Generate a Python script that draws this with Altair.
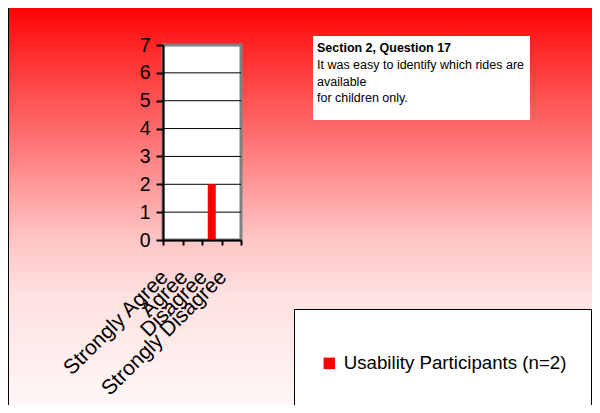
import altair as alt
import pandas as pd

# ---- data ----
categories = ["Strongly Agree", "Agree", "Disagree", "Strongly Disagree"]
counts = [0, 0, 2, 0]
series_name = "Usability Participants (n=2)"
y_ticks = [0, 1, 2, 3, 4, 5, 6, 7]
grid_values = [1, 2, 3, 4, 5, 6]
note_title = "Section 2, Question 17"
note_lines = ["It was easy to identify which rides are", "available", "for children only."]

FONT = "Liberation Sans, Arial, sans-serif"
W, H = 78, 195

bars_df = pd.DataFrame({"category": categories, "count": counts, "series": [series_name] * len(categories)})
grid_df = pd.DataFrame({"count": grid_values})
one = pd.DataFrame({"a": [0]})

y_scale = alt.Scale(domain=[0, 7], nice=False)
y_axis = alt.Axis(
    values=y_ticks, title=None, grid=False, zindex=1,
    labelFont=FONT, labelFontSize=19.5, labelColor="black", labelPadding=6,
    tickSize=7, tickColor="black", tickWidth=2,
    domainColor="black", domainWidth=2,
)

gradient = alt.LinearGradient(
    gradient="linear",
    stops=[
        alt.GradientStop(color="#ff0000", offset=0),
        alt.GradientStop(color="#ff2020", offset=0.08),
        alt.GradientStop(color="#ff6a6a", offset=0.30),
        alt.GradientStop(color="#ffc4c4", offset=0.57),
        alt.GradientStop(color="#ffe2e2", offset=0.72),
        alt.GradientStop(color="#fff8f8", offset=1),
    ],
    x1=0, x2=0, y1=0, y2=1,
)

background = alt.Chart(one).mark_rect(fill=gradient, stroke="black", strokeWidth=1).encode(
    x=alt.value(-154.5), x2=alt.value(445), y=alt.value(-38.5), y2=alt.value(368)
)

plot_bg = alt.Chart(one).mark_rect(fill="white", stroke="#808080", strokeWidth=3).encode(
    x=alt.value(0), x2=alt.value(W), y=alt.value(0), y2=alt.value(H)
)

grid = alt.Chart(grid_df).mark_rule(color="black", strokeWidth=1).encode(
    y=alt.Y("count:Q", scale=y_scale, axis=y_axis),
    x=alt.value(0), x2=alt.value(W),
)

bars = alt.Chart(bars_df).mark_bar(size=8).encode(
    x=alt.X(
        "category:N", sort=categories,
        scale=alt.Scale(paddingInner=0, paddingOuter=0),
        axis=alt.Axis(
            title=None, grid=False, zindex=1,
            labelAngle=-45, labelAlign="right", labelBaseline="alphabetic",
            labelFont=FONT, labelFontSize=21, labelColor="black",
            labelPadding=33, labelOffset=-4, labelOverlap=False, labelLimit=400,
            tickSize=5, tickColor="black", tickWidth=2, tickBand="extent",
            domainColor="black", domainWidth=2,
        ),
    ),
    y=alt.Y("count:Q", scale=y_scale, axis=y_axis),
    color=alt.Color(
        "series:N",
        scale=alt.Scale(domain=[series_name], range=["#ff0000"]),
        legend=alt.Legend(
            orient="none", legendX=157, legendY=309, title=None,
            symbolType="square", symbolSize=132, symbolStrokeWidth=0,
            labelFont=FONT, labelFontSize=18.7, labelColor="black",
            labelLimit=400, labelOffset=5, padding=0,
        ),
    ),
)

note_box = alt.Chart(one).mark_rect(fill="white").encode(
    x=alt.value(150), x2=alt.value(367), y=alt.value(-9), y2=alt.value(75)
)
note_head = alt.Chart(one).mark_text(
    align="left", baseline="alphabetic", font=FONT, fontSize=12.5, fontWeight="bold", color="black"
).encode(x=alt.value(154), y=alt.value(7), text=alt.value(note_title))
note_body = alt.Chart(one).mark_text(
    align="left", baseline="alphabetic", font=FONT, fontSize=12.5, color="black", lineHeight=16.5
).encode(x=alt.value(154), y=alt.value(24), text=alt.value(note_lines))

legend_box = alt.Chart(one).mark_rect(fill="white", stroke="black", strokeWidth=1).encode(
    x=alt.value(131.5), x2=alt.value(428.5), y=alt.value(264.5), y2=alt.value(364.5)
)

chart = alt.layer(
    background, plot_bg, grid, bars, note_box, note_head, note_body, legend_box
).properties(
    width=W, height=H,
    autosize=alt.AutoSizeParams(type="none"),
    padding={"left": 155, "top": 37, "right": 351, "bottom": 165},
).configure_view(stroke=None).configure(background="white")

chart.save("out.html", embed_options={"renderer": "svg", "actions": False})
